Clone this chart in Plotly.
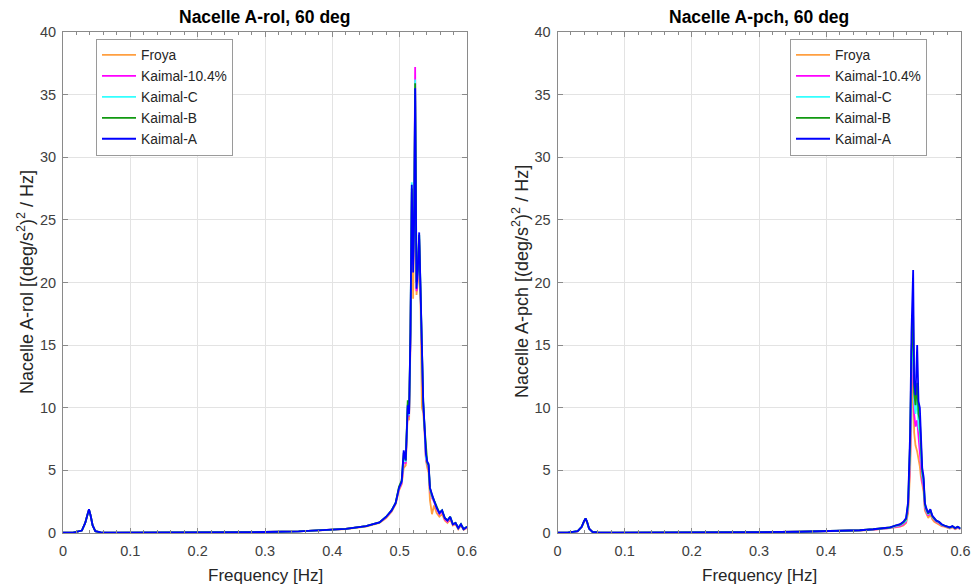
import plotly.graph_objects as go

# ---------------- data ----------------
SERIES = ["Froya", "Kaimal-10.4%", "Kaimal-C", "Kaimal-B", "Kaimal-A"]
COLORS = ["#FF9F40", "#FF00FF", "#33FFFF", "#119911", "#0000FF"]

X_TICKS = [0, 0.1, 0.2, 0.3, 0.4, 0.5, 0.6]
X_TICK_LABELS = ["0", "0.1", "0.2", "0.3", "0.4", "0.5", "0.6"]
Y_TICKS = [0, 5, 10, 15, 20, 25, 30, 35, 40]

# ---- Nacelle A-rol panel ----
F_ROL = [0, 0.015, 0.028, 0.033, 0.0365, 0.0386, 0.041, 0.044, 0.048, 0.056,
         0.08, 0.12, 0.18, 0.24, 0.3, 0.35, 0.39, 0.42, 0.45, 0.47,
         0.48, 0.488, 0.494, 0.499, 0.503, 0.506, 0.509, 0.512, 0.514, 0.516,
         0.518, 0.520, 0.5215, 0.523, 0.525, 0.527, 0.529, 0.531, 0.533, 0.535,
         0.537, 0.539, 0.541, 0.543, 0.545, 0.548, 0.551, 0.555, 0.559, 0.563,
         0.567, 0.571, 0.575, 0.579, 0.583, 0.587, 0.591, 0.595, 0.6]

ROL_FROYA = [0.02, 0.03, 0.2, 0.8, 1.5, 1.85, 1.4, 0.6, 0.15, 0.05,
             0.03, 0.03, 0.04, 0.05, 0.08, 0.13, 0.22, 0.32, 0.52, 0.8,
             1.2, 1.7, 2.3, 3.4, 3.9, 5.2, 5.4, 9.6, 9.0, 15,
             26.5, 18.7, 24, 34.5, 19, 20, 23, 18.5, 10.0, 9.6,
             8.0, 5.8, 5.2, 4.8, 2.6, 1.5, 2.2, 1.6, 1.3, 1.5,
             1.0, 0.8, 1.1, 0.6, 0.7, 0.3, 0.6, 0.25, 0.4]
ROL_K104 = [0.02, 0.03, 0.2, 0.8, 1.5, 1.88, 1.4, 0.6, 0.15, 0.05,
            0.03, 0.03, 0.04, 0.05, 0.08, 0.13, 0.22, 0.33, 0.54, 0.84,
            1.25, 1.75, 2.35, 3.5, 4.0, 5.6, 5.6, 10.0, 9.3, 15.5,
            27.2, 21.4, 25, 37.2, 19.3, 20.5, 23.5, 19, 12.5, 10.2,
            8.3, 5.9, 5.5, 5.2, 3.4, 2.8, 2.5, 1.9, 1.5, 1.7,
            1.1, 0.9, 1.2, 0.65, 0.75, 0.35, 0.65, 0.28, 0.45]
ROL_KC = [0.02, 0.03, 0.2, 0.8, 1.5, 1.88, 1.4, 0.6, 0.15, 0.05,
          0.03, 0.03, 0.04, 0.05, 0.08, 0.13, 0.22, 0.33, 0.55, 0.85,
          1.3, 1.8, 2.4, 3.6, 4.1, 6.0, 5.7, 10.3, 9.4, 15.8,
          28.0, 21.8, 25, 36.2, 19.6, 20.8, 23.8, 19.1, 12.8, 10.4,
          8.4, 6.0, 5.6, 5.3, 3.5, 2.9, 2.6, 2.0, 1.6, 1.8,
          1.2, 1.0, 1.3, 0.7, 0.8, 0.4, 0.7, 0.3, 0.5]
ROL_KB = [0.02, 0.03, 0.2, 0.8, 1.5, 1.86, 1.4, 0.6, 0.15, 0.05,
          0.03, 0.03, 0.04, 0.05, 0.08, 0.13, 0.22, 0.33, 0.55, 0.85,
          1.3, 1.8, 2.4, 3.7, 4.2, 6.4, 5.8, 10.6, 9.6, 16,
          27.5, 22.0, 25, 35.9, 20.0, 21, 23.8, 19.3, 13.0, 10.5,
          8.4, 6.5, 5.6, 5.4, 3.6, 3.0, 2.6, 2.0, 1.6, 1.8,
          1.2, 1.0, 1.3, 0.7, 0.8, 0.4, 0.7, 0.3, 0.5]
ROL_KA = [0.02, 0.03, 0.2, 0.8, 1.5, 1.9, 1.4, 0.6, 0.15, 0.05,
          0.03, 0.03, 0.04, 0.05, 0.08, 0.13, 0.22, 0.33, 0.55, 0.85,
          1.3, 1.8, 2.4, 3.6, 4.1, 6.6, 5.8, 10.2, 9.5, 16,
          27.8, 20.8, 25, 35.5, 19.5, 21, 24, 19.2, 13.2, 10.5,
          8.5, 6.3, 5.7, 5.5, 3.6, 3.0, 2.6, 2.0, 1.6, 1.8,
          1.2, 1.0, 1.3, 0.7, 0.8, 0.4, 0.7, 0.3, 0.5]

# ---- Nacelle A-pch panel ----
F_PCH = [0, 0.015, 0.03, 0.036, 0.0395, 0.0418, 0.044, 0.047, 0.052, 0.06,
         0.09, 0.13, 0.18, 0.24, 0.3, 0.36, 0.41, 0.45, 0.47, 0.485,
         0.495, 0.503, 0.51, 0.515, 0.519, 0.522, 0.525, 0.527, 0.5295, 0.531,
         0.533, 0.5355, 0.5375, 0.5395, 0.541, 0.543, 0.545, 0.547, 0.549, 0.552,
         0.555, 0.558, 0.561, 0.564, 0.568, 0.572, 0.576, 0.58, 0.584, 0.588,
         0.592, 0.596, 0.6]

PCH_FROYA = [0.02, 0.03, 0.12, 0.45, 0.9, 1.12, 0.85, 0.33, 0.08, 0.04,
             0.03, 0.03, 0.04, 0.05, 0.07, 0.1, 0.14, 0.2, 0.26, 0.32,
             0.38, 0.45, 0.5, 0.6, 0.8, 1.6, 5, 10, 14, 8,
             7, 6.5, 6, 5.3, 4.5, 3.7, 3.3, 1.8, 1.6, 1.2,
             1.5, 1.1, 0.9, 0.8, 0.7, 0.55, 0.5, 0.4, 0.35, 0.45,
             0.3, 0.4, 0.3]
PCH_K104 = [0.02, 0.03, 0.13, 0.47, 0.92, 1.14, 0.87, 0.34, 0.08, 0.04,
            0.03, 0.03, 0.04, 0.05, 0.07, 0.1, 0.14, 0.21, 0.28, 0.34,
            0.4, 0.5, 0.55, 0.7, 0.9, 1.9, 6, 12, 15, 9.5,
            8.5, 9, 7.5, 6.5, 5.2, 4.1, 3.7, 2.0, 1.7, 1.4,
            1.7, 1.25, 1.05, 0.9, 0.8, 0.6, 0.55, 0.45, 0.4, 0.5,
            0.35, 0.45, 0.32]
PCH_KC = [0.02, 0.03, 0.14, 0.48, 0.93, 1.15, 0.88, 0.34, 0.08, 0.04,
          0.03, 0.03, 0.04, 0.05, 0.07, 0.1, 0.15, 0.21, 0.29, 0.36,
          0.42, 0.55, 0.62, 0.8, 1.0, 2.1, 6.8, 13.5, 16, 10.5,
          9.5, 10.8, 8.5, 8, 6.2, 4.6, 4.0, 2.2, 1.8, 1.5,
          1.8, 1.3, 1.1, 0.95, 0.85, 0.65, 0.58, 0.48, 0.42, 0.52,
          0.38, 0.48, 0.34]
PCH_KB = [0.02, 0.03, 0.15, 0.49, 0.94, 1.16, 0.89, 0.35, 0.08, 0.04,
          0.03, 0.03, 0.04, 0.05, 0.07, 0.1, 0.15, 0.22, 0.3, 0.37,
          0.44, 0.58, 0.66, 0.85, 1.1, 2.3, 7.4, 14.5, 17.3, 11.2,
          10.2, 12, 9.5, 9, 6.8, 4.9, 4.3, 2.3, 1.9, 1.55,
          1.85, 1.35, 1.15, 0.98, 0.88, 0.68, 0.59, 0.49, 0.44, 0.54,
          0.39, 0.49, 0.35]
PCH_KA = [0.02, 0.03, 0.15, 0.5, 0.95, 1.17, 0.9, 0.35, 0.08, 0.04,
          0.03, 0.03, 0.04, 0.05, 0.07, 0.1, 0.15, 0.22, 0.3, 0.38,
          0.45, 0.6, 0.7, 0.9, 1.2, 2.5, 8, 16, 21, 12,
          11, 15, 10.5, 10, 7.5, 5.2, 4.5, 2.4, 2.0, 1.6,
          1.9, 1.4, 1.2, 1.0, 0.9, 0.7, 0.6, 0.5, 0.45, 0.55,
          0.4, 0.5, 0.35]

ROL_VALUES = [ROL_FROYA, ROL_K104, ROL_KC, ROL_KB, ROL_KA]
PCH_VALUES = [PCH_FROYA, PCH_K104, PCH_KC, PCH_KB, PCH_KA]

# ---------------- figure ----------------
FONT = "Liberation Sans, Arial, Helvetica, sans-serif"
W, H = 971, 585

fig = go.Figure()

for name, col, vals in zip(SERIES, COLORS, ROL_VALUES):
    fig.add_trace(go.Scatter(x=F_ROL, y=vals, mode="lines", name=name,
                             line=dict(color=col, width=1.8),
                             xaxis="x", yaxis="y", legend="legend"))
for name, col, vals in zip(SERIES, COLORS, PCH_VALUES):
    fig.add_trace(go.Scatter(x=F_PCH, y=vals, mode="lines", name=name,
                             line=dict(color=col, width=1.8),
                             xaxis="x2", yaxis="y2", legend="legend2"))

def px_x(p):
    return p / W

def px_y(p):
    return 1 - p / H

ydom = [px_y(533), px_y(32)]
xdom1 = [px_x(63), px_x(467)]
xdom2 = [px_x(557.5), px_x(960.5)]

axis_common = dict(
    showline=True, linecolor="#8a8a8a", linewidth=1, mirror="allticks",
    ticks="inside", ticklen=5, tickcolor="#8a8a8a", tickwidth=1,
    showgrid=True, gridcolor="#e3e3e3", gridwidth=1, zeroline=False,
    tickfont=dict(family=FONT, size=14.5, color="#404040"),
    fixedrange=True, automargin=False,
)

xaxis_common = dict(axis_common, range=[0, 0.6], tickvals=X_TICKS,
                    ticktext=X_TICK_LABELS, ticklabelstandoff=5,
                    minor=dict(dtick=0.02, ticks="inside", ticklen=3,
                               tickcolor="#8a8a8a", showgrid=False))
yaxis_common = dict(axis_common, range=[0, 40], tickvals=Y_TICKS,
                    ticklabelstandoff=3)

legend_common = dict(
    bgcolor="white", bordercolor="#9a9a9a", borderwidth=1,
    font=dict(family=FONT, size=13.8, color="#262626"),
    xanchor="left", yanchor="top", tracegroupgap=0,
    itemwidth=34,
)

fig.update_layout(
    width=W, height=H,
    margin=dict(l=0, r=0, t=0, b=0, pad=0, autoexpand=False),
    paper_bgcolor="white", plot_bgcolor="white",
    showlegend=True,
    xaxis=dict(xaxis_common, domain=xdom1, anchor="y"),
    yaxis=dict(yaxis_common, domain=ydom, anchor="x"),
    xaxis2=dict(xaxis_common, domain=xdom2, anchor="y2"),
    yaxis2=dict(yaxis_common, domain=ydom, anchor="x2"),
    legend=dict(legend_common, x=px_x(96), y=px_y(38.5)),
    legend2=dict(legend_common, x=px_x(790), y=px_y(38.5)),
)

xlab_font = dict(family=FONT, size=17, color="#262626")
ylab_font = dict(family=FONT, size=18, color="#262626")
title_font = dict(family=FONT, size=17.5, color="#000000")
annotations = [
    dict(text="<b>Nacelle A-rol, 60 deg</b>", x=px_x(265), y=px_y(17),
         font=title_font),
    dict(text="<b>Nacelle A-pch, 60 deg</b>", x=px_x(759), y=px_y(17),
         font=title_font),
    dict(text="Frequency [Hz]", x=px_x(265), y=px_y(575), font=xlab_font),
    dict(text="Frequency [Hz]", x=px_x(759), y=px_y(575), font=xlab_font),
    dict(text="Nacelle A-rol [(deg/s<sup>2</sup>)<sup>2</sup> / Hz]",
         x=px_x(25), y=px_y(282), textangle=-90, font=ylab_font),
    dict(text="Nacelle A-pch [(deg/s<sup>2</sup>)<sup>2</sup> / Hz]",
         x=px_x(520), y=px_y(282), textangle=-90, font=ylab_font),
]
for a in annotations:
    a.update(xref="paper", yref="paper", showarrow=False,
             xanchor="center", yanchor="middle")
fig.update_layout(annotations=annotations)

fig.write_html("out.html")
